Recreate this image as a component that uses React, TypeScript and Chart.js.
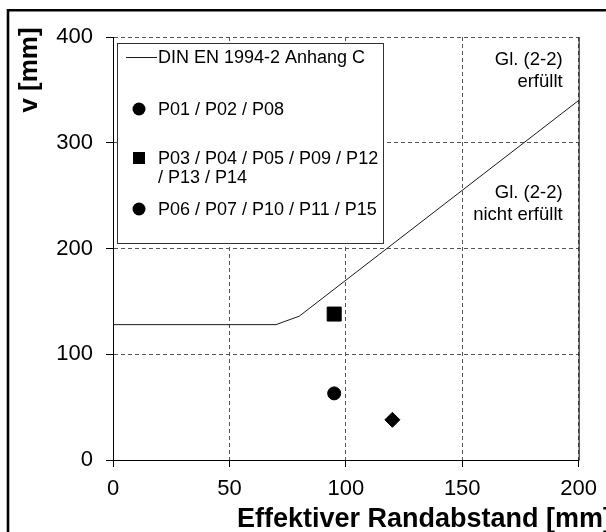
import React, { useEffect, useRef } from 'react';
import { Chart, registerables } from 'chart.js';

Chart.register(...registerables);

const FAMILY = '"Liberation Sans", Arial, Helvetica, sans-serif';

// ---- data ----
const xTicks = [0, 50, 100, 150, 200];
const yTicks = [0, 100, 200, 300, 400];

const dinLabel = 'DIN EN 1994-2 Anhang C';
const dinX = [0, 70, 80, 200];
const dinY = [128, 128, 136, 340];

const groupALabel = ['P01 / P02 / P08'];
const groupAX = [95];
const groupAY = [63];

const groupBLabel = ['P03 / P04 / P05 / P09 / P12', '/ P13 / P14'];
const groupBX = [95];
const groupBY = [138];

const groupCLabel = ['P06 / P07 / P10 / P11 / P15'];
const groupCX = [120];
const groupCY = [38];

const noteUpper = ['Gl. (2-2)', 'erfüllt'];
const noteLower = ['Gl. (2-2)', 'nicht erfüllt'];

const xTitle = 'Effektiver Randabstand [mm]';
const yTitle = 'v [mm]';

const toPoints = (xs: number[], ys: number[]) => xs.map((x, i) => ({ x, y: ys[i] }));

const overlay = {
  id: 'overlay',
  afterDraw(chart: any) {
    const { ctx, chartArea: a } = chart;
    ctx.save();

    // right border of plot area
    ctx.strokeStyle = '#000';
    ctx.lineWidth = 1;
    ctx.setLineDash([]);
    ctx.beginPath();
    ctx.moveTo(a.right + 0.5, a.top);
    ctx.lineTo(a.right + 0.5, a.bottom + 0.5);
    ctx.stroke();

    // outer frame (top/left visible)
    ctx.lineWidth = 2.6;
    ctx.beginPath();
    ctx.moveTo(8, 700);
    ctx.lineTo(8, 10.3);
    ctx.lineTo(700, 10.3);
    ctx.stroke();

    // legend box
    const lx = a.left + 4;
    const ly = a.top + 6;
    const lw = 266;
    const lh = 200;
    ctx.fillStyle = '#fff';
    ctx.fillRect(lx, ly, lw, lh);
    ctx.strokeStyle = '#333';
    ctx.lineWidth = 1;
    ctx.strokeRect(lx + 0.5, ly + 0.5, lw, lh);

    const ds = chart.data.datasets;
    const mx = lx + 22;
    const tx = lx + 41;
    ctx.font = `18px ${FAMILY}`;
    ctx.textBaseline = 'middle';
    ctx.textAlign = 'left';
    ctx.fillStyle = '#000';

    // item 1: line
    let y = ly + 14;
    ctx.strokeStyle = ds[0].borderColor;
    ctx.beginPath();
    ctx.moveTo(lx + 9, y + 0.5);
    ctx.lineTo(lx + 40, y + 0.5);
    ctx.stroke();
    ctx.fillText(ds[0].label, tx, y + 1);

    // item 2: circle
    y = ly + 66;
    ctx.beginPath();
    ctx.arc(mx, y, 6.5, 0, Math.PI * 2);
    ctx.fill();
    groupALabel.forEach((t, i) => ctx.fillText(t, tx, y + 1 + i * 19));

    // item 3: square
    y = ly + 115;
    ctx.fillRect(mx - 6, y - 6, 12, 12);
    groupBLabel.forEach((t, i) => ctx.fillText(t, tx, y + 1 + i * 19));

    // item 4: circle (as in original legend)
    y = ly + 166;
    ctx.beginPath();
    ctx.arc(mx, y, 6.5, 0, Math.PI * 2);
    ctx.fill();
    groupCLabel.forEach((t, i) => ctx.fillText(t, tx, y + 1 + i * 19));

    // annotations
    ctx.font = `18.5px ${FAMILY}`;
    ctx.textAlign = 'right';
    const nx = a.right - 16;
    noteUpper.forEach((t, i) => ctx.fillText(t, nx, a.top + 23 + i * 22));
    noteLower.forEach((t, i) => ctx.fillText(t, nx, a.top + 156 + i * 22));

    // axis titles
    ctx.font = `bold 26px ${FAMILY}`;
    ctx.save();
    ctx.translate(29.5, 70);
    ctx.rotate(-Math.PI / 2);
    ctx.textAlign = 'center';
    ctx.textBaseline = 'middle';
    ctx.fillText(yTitle, 0, 0);
    ctx.restore();

    ctx.font = `bold 27px ${FAMILY}`;
    ctx.textAlign = 'left';
    ctx.textBaseline = 'alphabetic';
    ctx.fillText(xTitle, 237, 527);

    ctx.restore();
  },
};

export default function App() {
  const ref = useRef<HTMLCanvasElement>(null);

  useEffect(() => {
    const canvas = ref.current;
    if (!canvas) return;
    const tickFont = { size: 22, family: FAMILY };
    const chart = new Chart(canvas, {
      type: 'scatter',
      data: {
        datasets: [
          {
            label: dinLabel,
            data: toPoints(dinX, dinY),
            showLine: true,
            borderColor: '#1a1a1a',
            backgroundColor: '#1a1a1a',
            borderWidth: 1,
            pointRadius: 0,
            fill: false,
          },
          {
            label: groupALabel.join(' '),
            data: toPoints(groupAX, groupAY),
            pointStyle: 'circle',
            pointRadius: 6.5,
            backgroundColor: '#000',
            borderColor: '#000',
            borderWidth: 1,
          },
          {
            label: groupBLabel.join(' '),
            data: toPoints(groupBX, groupBY),
            pointStyle: 'rect',
            pointRadius: 9.9,
            backgroundColor: '#000',
            borderColor: '#000',
            borderWidth: 1,
          },
          {
            label: groupCLabel.join(' '),
            data: toPoints(groupCX, groupCY),
            pointStyle: 'rectRot',
            pointRadius: 7.5,
            backgroundColor: '#000',
            borderColor: '#000',
            borderWidth: 1,
          },
        ],
      },
      options: {
        responsive: false,
        animation: false,
        devicePixelRatio: 1,
        layout: { padding: { left: 0, top: 37, right: 23, bottom: 0 } },
        plugins: {
          legend: { display: false },
          tooltip: { enabled: false },
        },
        scales: {
          x: {
            type: 'linear',
            min: xTicks[0],
            max: xTicks[xTicks.length - 1],
            afterFit: (s: any) => {
              s.height = 72;
            },
            afterBuildTicks: (s: any) => {
              s.ticks = xTicks.map((v) => ({ value: v }));
            },
            ticks: { font: tickFont, color: '#000', padding: 9, maxRotation: 0, autoSkip: false },
            grid: { color: '#555', tickColor: '#000', tickLength: 7, lineWidth: 1, tickWidth: 1 },
            border: { display: true, color: '#000', width: 1, dash: [4, 3] },
          },
          y: {
            type: 'linear',
            min: yTicks[0],
            max: yTicks[yTicks.length - 1],
            afterFit: (s: any) => {
              s.width = 113;
            },
            afterBuildTicks: (s: any) => {
              s.ticks = yTicks.map((v) => ({ value: v }));
            },
            ticks: { font: tickFont, color: '#000', padding: 13, autoSkip: false },
            grid: { color: '#555', tickColor: '#000', tickLength: 7, lineWidth: 1, tickWidth: 1 },
            border: { display: true, color: '#000', width: 1, dash: [4, 3] },
          },
        },
      },
      plugins: [overlay],
    } as any);
    return () => chart.destroy();
  }, []);

  return (
    <div style={{ position: 'absolute', left: 0, top: 0, width: 606, height: 532, background: '#fff', overflow: 'hidden' }}>
      <canvas ref={ref} width={606} height={532} style={{ display: 'block' }} />
    </div>
  );
}
